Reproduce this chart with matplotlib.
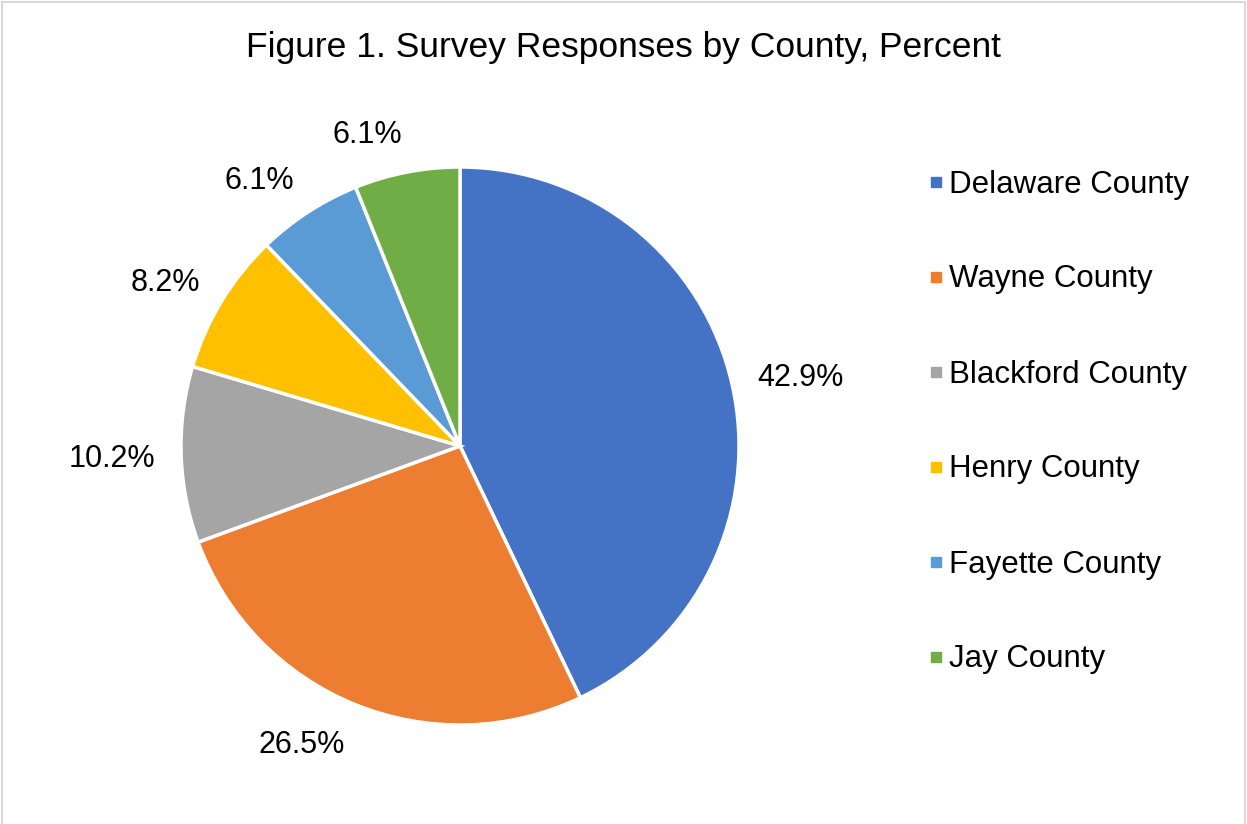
import numpy as np
import matplotlib.pyplot as plt
from matplotlib.lines import Line2D
from matplotlib.patches import Rectangle

plt.rcParams['font.family'] = ['Liberation Sans', 'DejaVu Sans']

# survey shares by county
counties = ["Delaware County", "Wayne County", "Blackford County",
            "Henry County", "Fayette County", "Jay County"]
percents = [42.9, 26.5, 10.2, 8.2, 6.1, 6.1]
colors = ["#4472C4", "#ED7D31", "#A5A5A5", "#FFC000", "#5B9BD5", "#70AD47"]

W, H = 1247, 824
fig = plt.figure(figsize=(W / 100, H / 100), dpi=100)

# pie centre and radius in pixels
cx, cy, r = 460, 446, 279
ax = fig.add_axes([(cx - r) / W, (H - cy - r) / H, 2 * r / W, 2 * r / H])

wedges, _, autotexts = ax.pie(
    percents, colors=colors, startangle=90, counterclock=False,
    autopct=lambda p: f"{p:.1f}%", pctdistance=1.2,
    wedgeprops=dict(edgecolor="white", linewidth=2.5),
    textprops=dict(fontsize=22, color="black"))
ax.set_xlim(-1, 1)
ax.set_ylim(-1, 1)
ax.set_aspect("equal")

# place labels "outside end" like Excel: box pushed off the rim
renderer = fig.canvas.get_renderer()
for w, t in zip(wedges, autotexts):
    ang = np.deg2rad((w.theta1 + w.theta2) / 2)
    bb = t.get_window_extent(renderer)
    tw, th = bb.width / r, bb.height / r
    dx, dy = np.cos(ang), np.sin(ang)
    t.set_position((dx * 1.092 + np.sign(dx) * tw / 2,
                    dy * 1.092 + dy * th / 2 - 0.01))
    t.set_ha("center")
    t.set_va("center")

fig.text(0.5, 1 - 47 / H, "Figure 1. Survey Responses by County, Percent",
         ha="center", va="center", fontsize=25.5)

handles = [Line2D([], [], marker="s", linestyle="none", markersize=7,
                  markerfacecolor=c, markeredgecolor=c) for c in colors]
fig.legend(handles, counties, loc="upper left",
           bbox_to_anchor=(914 / W, 1 - 157 / H), frameon=False,
           fontsize=22.5, labelspacing=2.08, handlelength=0.6,
           handletextpad=0.12, borderaxespad=0)

# light chart border
fig.patches.append(Rectangle((2 / W, -0.01), 1 - 4 / W, 1.01 - 2 / H,
                             transform=fig.transFigure, fill=False,
                             edgecolor="#D9D9D9", linewidth=1.5))

fig.savefig("out.png", dpi=100)
